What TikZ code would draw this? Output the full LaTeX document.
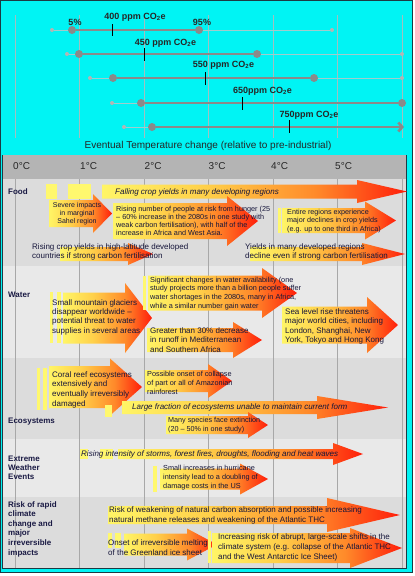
\documentclass[tikz,border=0pt]{standalone}
\usepackage{fontspec}
\setmainfont{Liberation Sans}
\usetikzlibrary{arrows.meta}
\definecolor{edgeC}{HTML}{1C3A44}
\definecolor{skyA}{RGB}{0,244,244}
\definecolor{hdr}{HTML}{B4B4B4}
\definecolor{rowA}{HTML}{DCDCDC}
\definecolor{rowB}{HTML}{E9E9E9}
\definecolor{gridB}{HTML}{A8A8A8}
\definecolor{gridT}{HTML}{A0C0C0}
\definecolor{barD}{HTML}{8A8A8A}
\definecolor{barL}{HTML}{B4B4B4}
\definecolor{barF}{HTML}{A0CCCC}
\definecolor{tcol}{HTML}{15153A}
\definecolor{lcol}{HTML}{1A1A44}
\definecolor{arrY}{HTML}{FFF566}
\definecolor{arrY2}{HTML}{FFD04A}
\definecolor{arrO}{HTML}{FF8A2A}
\definecolor{arrR}{HTML}{FF1E0A}
\definecolor{hiY}{HTML}{FFF86E}
\pgfdeclarehorizontalshading{stshade}{100bp}{color(0bp)=(arrY); color(25bp)=(arrY); color(42bp)=(arrY2); color(60bp)=(arrO); color(75bp)=(arrR); color(100bp)=(arrR)}
% x0, head start, tip, y centre, body half height, head half height
\newcommand\stArrow[6]{%
  \shade[shading=stshade] (#1,#4-#5) -- (#2,#4-#5) -- (#2,#4-#6) -- (#3,#4) -- (#2,#4+#6) -- (#2,#4+#5) -- (#1,#4+#5) -- cycle;}
\newcommand\stStripe[4]{\fill[hiY] (#1,#2) rectangle (#3,#4);}
\begin{document}
\begin{tikzpicture}[x=1pt,y=-1pt,
  txt/.style 2 args={font={\fontsize{#1}{#2}\selectfont}, text=tcol, align=left, anchor=west, inner sep=0pt},
  itxt/.style={font={\fontsize{8}{9.4}\selectfont\itshape}, text=tcol, anchor=west, inner sep=0pt},
  lbl/.style={font={\fontsize{8}{#1}\selectfont\bfseries}, text=lcol, align=left, anchor=west, inner sep=0pt},
  lbl/.default=9.5,
  temp/.style={font={\fontsize{10}{12}\selectfont}, text=black!85, anchor=west, inner sep=0pt},
  ppm/.style={font={\fontsize{9}{10}\selectfont\bfseries}, text=black!85, inner sep=0pt},
  ttl/.style={font={\fontsize{10}{12}\selectfont}, text=black!85, inner sep=0pt},
  bdot/.style={circle, fill=barD, minimum size=8pt, inner sep=0pt},
  sdot/.style={circle, fill=barL, minimum size=4pt, inner sep=0pt},
  dbar/.style={draw=barD, line width=2.6pt},
  lbar/.style={draw=barF, line width=1pt},
  tickmark/.style={draw=black, line width=0.8pt},
  skyband/.style={draw=skyA, line cap=butt}]
\useasboundingbox (0,0) rectangle (415,576);
% cyan top band and margins drawn as wide strokes
\draw[skyband, line width=155pt] (0.5,78) -- (412.7,78);
\draw[skyband, line width=3pt] (1.5,155) -- (1.5,572.5);
\draw[skyband, line width=7pt] (409.2,155) -- (409.2,572.5);
\draw[skyband, line width=4.5pt] (0.5,570.5) -- (412.7,570.5);
\fill[fill=hdr] (3,155) rectangle (406,179);
\fill[fill=rowA] (3,179) rectangle (406,266);
\fill[fill=rowB] (3,266) rectangle (406,358);
\fill[fill=rowA] (3,358) rectangle (406,439);
\fill[fill=rowB] (3,439) rectangle (406,497);
\fill[fill=rowA] (3,497) rectangle (406,568);
\draw[draw=edgeC, line width=0.8pt] (2.6,155) -- (2.6,568.4) -- (406.2,568.4) -- (406.2,155);
\draw[draw=edgeC, line width=1.2pt] (0.6,0.6) rectangle (412.6,572.4);
% grid
\foreach \gx in {15,79.5,144,208.5,273,337.5,402} {
  \draw[draw=gridT, line width=0.8pt] (\gx,15) -- (\gx,138);
  \draw[draw=gridB, line width=0.8pt] (\gx,179) -- (\gx,568);
}
% concentration bars
\node[sdot] (s400a) at (52,30) {};
\node[sdot] (s400b) at (332,30) {};
\node[bdot] (b400a) at (72,30) {};
\node[bdot] (b400b) at (199,30) {};
\draw[lbar] (s400a) -- (b400a); \draw[lbar] (b400b) -- (s400b);
\draw[dbar] (b400a) -- (b400b);
\draw[tickmark] (112,24) -- (112,36);
\node[sdot] (s450a) at (67,54) {};
\node[sdot] (s450b) at (402,54) {};
\node[bdot] (b450a) at (79,54) {};
\node[bdot] (b450b) at (257,54) {};
\draw[lbar] (s450a) -- (b450a); \draw[lbar] (b450b) -- (s450b);
\draw[dbar] (b450a) -- (b450b);
\draw[tickmark] (144,48) -- (144,61);
\node[sdot] (s550a) at (90,78) {};
\node[sdot] (s550b) at (402,78) {};
\node[bdot] (b550a) at (113,78) {};
\node[bdot] (b550b) at (314,78) {};
\draw[lbar] (s550a) -- (b550a); \draw[lbar] (b550b) -- (s550b);
\draw[dbar] (b550a) -- (b550b);
\draw[tickmark] (205,72) -- (205,85);
\node[sdot] (s650a) at (112,103) {};
\node[bdot] (b650a) at (141,103) {};
\node[bdot] (b650b) at (402,103) {};
\draw[lbar] (s650a) -- (b650a);
\draw[dbar] (b650a) -- (b650b);
\draw[tickmark] (242,97) -- (242,110);
\node[sdot] (s750a) at (124,127) {};
\node[bdot] (b750a) at (152,127) {};
\coordinate (e750) at (404,127);
\draw[lbar] (s750a) -- (b750a);
\draw[dbar, -{Straight Barb[length=4pt,width=9pt]}] (b750a) -- (e750);
\draw[tickmark] (289,120) -- (289,133);
\node[ppm] (p5) at (75,22.5) {5\%};
\node[ppm] (p95) at (202,22.5) {95\%};
\node[ppm] (p400) at (135,17) {400 ppm CO\textsubscript{2}e};
\node[ppm] (p450) at (165.5,43) {450 ppm CO\textsubscript{2}e};
\node[ppm] (p550) at (223.5,65) {550 ppm CO\textsubscript{2}e};
\node[ppm] (p650) at (262.5,91) {650ppm CO\textsubscript{2}e};
\node[ppm] (p750) at (309,115) {750ppm CO\textsubscript{2}e};
\node[ttl] (title) at (208,145.5) {Eventual Temperature change (relative to pre-industrial)};
% temperature header
\node[temp] (t0) at (13,166) {0°C};
\node[temp] (t1) at (80,166) {1°C};
\node[temp] (t2) at (144.5,166) {2°C};
\node[temp] (t3) at (208.5,166) {3°C};
\node[temp] (t4) at (271,166) {4°C};
\node[temp] (t5) at (335,166) {5°C};
% row labels
\node[lbl] (lFood) at (8,192) {Food};
\node[lbl] (lWater) at (8,295) {Water};
\node[lbl] (lEco) at (8,422) {Ecosystems};
\node[lbl=9] (lExt) at (8,467.6) {Extreme\\Weather\\Events};
\node[lbl=9.6] (lRisk) at (8,529) {Risk of rapid\\climate\\change and\\major\\irreversible\\impacts};
% arrows: food
\stStripe{46}{184}{57}{199}
\stStripe{68}{184}{91}{199}
\stArrow{102}{357}{407}{191.5}{7}{11.5}
\stArrow{49}{93}{112}{213.5}{13.5}{19.5}
\stArrow{113}{227}{258}{221}{18}{25}
\stStripe{278}{208}{280.5}{233}
\stArrow{282}{365}{396}{220.5}{12.5}{19}
\stArrow{60}{128}{153}{254}{7}{11}
\stArrow{250}{362}{405}{254}{7}{11}
% water
\stStripe{50}{292}{53}{343}
\stStripe{57}{292}{61}{343}
\stArrow{63}{125}{152}{318}{25.5}{35}
\stStripe{143}{276}{146}{310}
\stArrow{148}{262}{297}{293}{17.5}{25}
\stArrow{147}{233}{262}{340}{12}{18}
\stArrow{282}{367}{398}{325}{18.5}{28}
% ecosystems
\stStripe{37}{368}{40}{410}
\stStripe{43}{368}{47}{410}
\stArrow{49}{110}{142}{387}{21}{28.5}
\stArrow{145}{208}{232}{381}{11}{17}
\stStripe{105}{405}{112}{417}
\stArrow{122}{317}{388}{407.5}{6.5}{11.5}
\stArrow{166}{248}{268}{425}{9}{13}
% extreme weather
\stStripe{80}{449}{88}{459}
\stStripe{100}{449}{113}{459}
\stArrow{118}{333}{363}{454}{5}{11}
\stStripe{153}{466}{157}{492}
\stArrow{160}{240}{268}{479}{10.5}{15.5}
% risk
\stArrow{108}{327}{400}{515}{9}{17}
\stStripe{108}{533}{112}{548}
\stStripe{115}{533}{121}{548}
\stArrow{124}{187}{217}{544.5}{11}{16}
\stStripe{208}{531}{211}{563}
\stArrow{212}{350}{402}{548}{15}{20}
% arrow texts
\node[itxt] (tFall) at (115,192) {Falling crop yields in many developing regions};
\node[txt={7}{8.2}, align=center, anchor=center] (tSahel) at (77,213.5) {Severe impacts\\in marginal\\Sahel region};
\node[txt={7.27}{8}] (tHunger) at (116,221.3) {Rising number of people at risk from hunger (25\\– 60\% increase in the 2080s in one study with\\weak carbon fertilisation), with half of the\\increase in Africa and West Asia.};
\node[txt={7.2}{8.5}] (tEntire) at (287,220.7) {Entire regions experience\\major declines in crop yields\\(e.g. up to one third in Africa)};
\node[txt={8}{9.7}] (tHigh) at (32,252) {Rising crop yields in high-latitude developed\\countries if strong carbon fertilisation};
\node[txt={8}{9.7}] (tDev) at (245,252) {Yields in many developed regions\\decline even if strong carbon fertilisation};
\node[txt={8}{9.3}] (tGlac) at (52,317) {Small mountain glaciers\\disappear worldwide –\\potential threat to water\\supplies in several areas};
\node[txt={7.3}{8.9}] (tAvail) at (150,293.5) {Significant changes in water availability (one\\study projects more than a billion people suffer\\water shortages in the 2080s, many in Africa,\\while a similar number gain water};
\node[txt={8}{9.2}] (tRunoff) at (150,340) {Greater than 30\% decrease\\in runoff in Mediterranean\\and Southern Africa};
\node[txt={8}{9.5}] (tSea) at (285,326.5) {Sea level rise threatens\\major world cities, including\\London, Shanghai, New\\York, Tokyo and Hong Kong};
\node[txt={8}{9.7}] (tCoral) at (52,389.5) {Coral reef ecosystems\\extensively and\\eventually irreversibly\\damaged};
\node[txt={7.3}{9.3}] (tAmaz) at (147,383) {Possible onset of collapse\\of part or all of Amazonian\\rainforest};
\node[itxt] (tFrac) at (132,407) {Large fraction of ecosystems unable to maintain current form};
\node[txt={7.2}{9}] (tSpec) at (168,425.5) {Many species face extinction\\(20 – 50\% in one study)};
\node[itxt] (tStorm) at (81,454) {Rising intensity of storms, forest fires, droughts, flooding and heat waves};
\node[txt={7.3}{9.2}] (tHurr) at (163,477.4) {Small increases in hurricane\\intensity lead to a doubling of\\damage costs in the US};
\node[txt={8}{10}] (tCarb) at (109,515) {Risk of weakening of natural carbon absorption and possible increasing\\natural methane releases and weakening of the Atlantic THC};
\node[txt={8}{10}] (tGreen) at (108,547.3) {Onset of irreversible melting\\of the Greenland ice sheet};
\node[txt={8}{10}] (tAbrupt) at (218,547.3) {Increasing risk of abrupt, large-scale shifts in the\\climate system (e.g. collapse of the Atlantic THC\\and the West Antarctic Ice Sheet)};
\end{tikzpicture}
\end{document}
